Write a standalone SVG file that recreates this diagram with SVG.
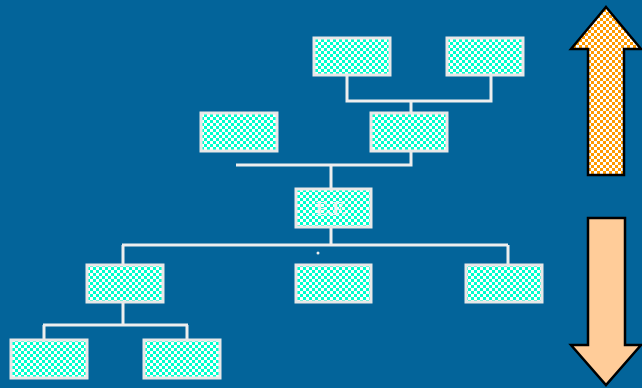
<svg xmlns="http://www.w3.org/2000/svg" width="642" height="388" viewBox="0 0 642 388">
<defs>
<pattern id="cy" width="6" height="6" patternUnits="userSpaceOnUse">
<rect width="6" height="6" fill="#FFFFFF"/>
<rect width="3" height="3" fill="#00FFCC"/>
<rect x="3" y="3" width="3" height="3" fill="#00FFCC"/>
</pattern>
<pattern id="or" width="6" height="6" patternUnits="userSpaceOnUse">
<rect width="6" height="6" fill="#FFFFFF"/>
<rect width="3" height="3" fill="#FF9900"/>
<rect x="3" y="3" width="3" height="3" fill="#FF9900"/>
</pattern>
<style>
.box{fill:url(#cy);stroke:#E8E8E8;stroke-width:3}
.edge{fill:none;stroke:#EEEEEE;stroke-width:3}
.lbl{font-family:"Liberation Serif",serif;font-size:18px;font-weight:bold;fill:#EEF4F4}
</style>
</defs>
<rect width="642" height="388" fill="#03649A"/>
<g id="connectors">
<path class="edge" d="M347 76V101H491V76M411 101V112"/>
<path class="edge" d="M411 152V165H236M331 165V188"/>
<path class="edge" d="M331 228V245M122 245H508M123 245V264M508 245V264"/>
<path class="edge" d="M123 303V325M43 325H188M44 325V339M187 325V339"/>
<circle cx="318" cy="253" r="1.5" fill="#EEEEEE"/>
</g>
<g id="n1"><rect class="box" x="314" y="38" width="76" height="37"/></g>
<g id="n2"><rect class="box" x="447" y="38" width="76" height="37"/></g>
<g id="n3"><rect class="box" x="201" y="113" width="76" height="38"/></g>
<g id="n4"><rect class="box" x="371" y="113" width="76" height="38"/></g>
<g id="n5"><rect class="box" x="296" y="189" width="75" height="38"/><text class="lbl" x="331" y="215" text-anchor="middle">E.F.</text></g>
<g id="n6"><rect class="box" x="87" y="265" width="76" height="37"/></g>
<g id="n7"><rect class="box" x="296" y="265" width="75" height="37"/></g>
<g id="n8"><rect class="box" x="466" y="265" width="76" height="37"/></g>
<g id="n9"><rect class="box" x="11" y="340" width="76" height="38"/></g>
<g id="n10"><rect class="box" x="144" y="340" width="76" height="38"/></g>
<g id="up"><path d="M606 7L641 49H624V175H588V49H571Z" fill="url(#or)" stroke="#000" stroke-width="2.5" stroke-linejoin="miter"/></g>
<g id="down"><path d="M588 218H625V345H641L606 385L571 345H588Z" fill="#FFCC99" stroke="#000" stroke-width="2.5"/></g>
</svg>
